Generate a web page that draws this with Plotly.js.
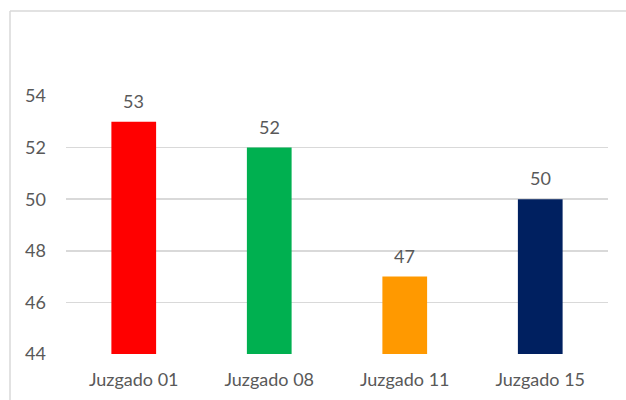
<!DOCTYPE html>
<html>
<head>
<meta charset="utf-8">
<script src="https://cdn.plot.ly/plotly-3.0.1.min.js"></script>
<style>html,body{margin:0;padding:0;background:#fff;}#chart{width:626px;height:400px;}</style>
</head>
<body>
<div id="chart"></div>
<script>
const categories = ["Juzgado 01", "Juzgado 08", "Juzgado 11", "Juzgado 15"];
const values = [53, 52, 47, 50];
const barColors = ["#FF0000", "#00B050", "#FF9900", "#002060"];
const yTicks = [44, 46, 48, 50, 52, 54];

const L = 66, R = 18, T = 96, B = 46, W = 626, H = 400;
const pw = W - L - R, ph = H - T - B;
const px = x => (x - L) / pw;
const py = y => (H - B - y) / ph;
const FONT = "Lato, 'Open Sans', sans-serif";

const trace = {
  type: "bar",
  x: categories,
  y: values,
  marker: {color: barColors, line: {width: 0}},
  hoverinfo: "none"
};

const labels = categories.map((c, i) => ({
  x: c, y: values[i], xref: "x", yref: "y",
  text: String(values[i]), showarrow: false,
  yanchor: "middle", yshift: 21,
  font: {family: FONT, size: 18, color: "#595959"}
}));

const layout = {
  width: W, height: H,
  margin: {l: L, r: R, t: T, b: B, pad: 0},
  paper_bgcolor: "#ffffff",
  plot_bgcolor: "#ffffff",
  showlegend: false,
  bargap: 0.67,
  font: {family: FONT, size: 18, color: "#595959"},
  xaxis: {
    type: "category",
    showgrid: false, showline: false, zeroline: false, ticks: "",
    ticklabelstandoff: 13,
    tickfont: {size: 18, color: "#595959"}
  },
  yaxis: {
    range: [44, 54],
    tickvals: yTicks,
    ticktext: yTicks.map(String),
    showgrid: true, gridcolor: "#d9d9d9", gridwidth: 1.5,
    zeroline: false, showline: false, ticks: "",
    ticklabelstandoff: 19,
    tickfont: {size: 18, color: "#595959"}
  },
  annotations: labels,
  shapes: [
    {type: "line", xref: "paper", yref: "paper", x0: px(10), x1: px(10), y0: py(11), y1: py(400), line: {color: "#d9d9d9", width: 1.5}},
    {type: "line", xref: "paper", yref: "paper", x0: px(10), x1: px(626), y0: py(11), y1: py(11), line: {color: "#d9d9d9", width: 1.5}}
  ]
};

Plotly.newPlot("chart", [trace], layout, {displayModeBar: false, staticPlot: true});
</script>
</body>
</html>
